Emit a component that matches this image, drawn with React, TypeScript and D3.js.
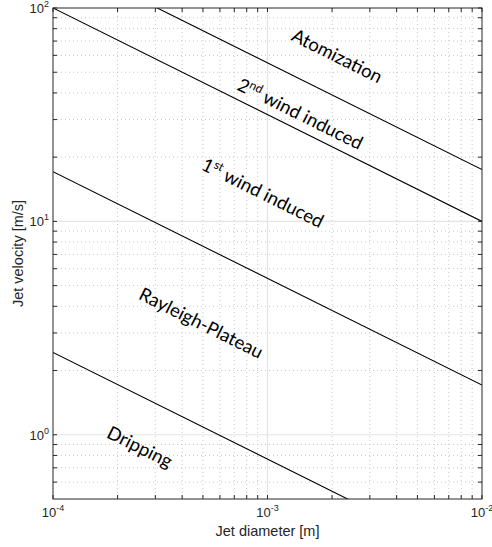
import React from "react";
import * as d3 from "d3";

// Regime boundaries: V ∝ d^-1/2, given by velocity at the two ends of the diameter range
const boundaryDiameters = [1e-4, 1e-2];
const boundaryAtomization = [175, 17.5];
const boundarySecondWind = [100, 10];
const boundaryFirstWind = [17.1, 1.71];
const boundaryDripping = [2.43, 0.243];

// Region labels; "|" marks the ordinal superscript
const regionNames = ["Atomization", "2|nd| wind induced", "1|st| wind induced", "Rayleigh-Plateau", "Dripping"];
const regionDiameters = [2.11e-3, 1.42e-3, 9.5e-4, 4.9e-4, 2.54e-4];
const regionVelocities = [59.6, 31.9, 13.6, 3.34, 0.877];

const xTickExponents = [-4, -3, -2];
const yTickExponents = [0, 1, 2];

const W = 492;
const H = 547;
const M = { left: 53, right: 482, top: 8, bottom: 499 };

export default function App() {
  const x = d3.scaleLog().domain([1e-4, 1e-2]).range([M.left, M.right]);
  const y = d3.scaleLog().domain([0.5, 100]).range([M.bottom, M.top]);

  const xMinor: number[] = [];
  for (const dec of [1e-4, 1e-3]) for (let k = 2; k <= 9; k++) xMinor.push(k * dec);
  const yMinor: number[] = [];
  for (const dec of [0.1, 1, 10]) for (let k = 2; k <= 9; k++) {
    const v = k * dec;
    if (v > 0.5 && v < 100) yMinor.push(v);
  }
  const xMajor = [1e-3];
  const yMajor = [1, 10];
  const xAllTicks = [...xMinor, 1e-4, 1e-3, 1e-2];
  const yAllTicks = [...yMinor, 1, 10, 100];

  const line = d3
    .line<[number, number]>()
    .x((d) => x(d[0]))
    .y((d) => y(d[1]));

  const boundaries = [boundaryAtomization, boundarySecondWind, boundaryFirstWind, boundaryDripping];

  // on-screen angle of a slope -1/2 line in this log-log frame
  const pxPerDecX = (M.right - M.left) / 2;
  const pxPerDecY = (M.bottom - M.top) / Math.log10(200);
  const angle = (Math.atan((0.5 * pxPerDecY) / pxPerDecX) * 180) / Math.PI;

  const axisColor = "#262626";
  const tickLen = 4;

  return (
    <svg width={W} height={H} style={{ position: "absolute", left: 0, top: 0, background: "#fff" }}>
      <defs>
        <clipPath id="plotArea">
          <rect x={M.left} y={M.top} width={M.right - M.left} height={M.bottom - M.top} />
        </clipPath>
      </defs>
      <rect x={M.left} y={M.top} width={M.right - M.left} height={M.bottom - M.top} fill="#fff" />
      {/* minor grid */}
      <g stroke="#c8c8c8" strokeWidth={1} strokeDasharray="1,3">
        {xMinor.map((v) => (
          <line key={"xm" + v} x1={x(v)} x2={x(v)} y1={M.top} y2={M.bottom} />
        ))}
        {yMinor.map((v) => (
          <line key={"ym" + v} x1={M.left} x2={M.right} y1={y(v)} y2={y(v)} />
        ))}
      </g>
      {/* major grid */}
      <g stroke="#e3e3e3" strokeWidth={1.2}>
        {xMajor.map((v) => (
          <line key={"xM" + v} x1={x(v)} x2={x(v)} y1={M.top} y2={M.bottom} />
        ))}
        {yMajor.map((v) => (
          <line key={"yM" + v} x1={M.left} x2={M.right} y1={y(v)} y2={y(v)} />
        ))}
      </g>
      {/* regime boundaries */}
      <g clipPath="url(#plotArea)" fill="none" stroke="#000" strokeWidth={1.1}>
        {boundaries.map((b, i) => (
          <path key={i} d={line(boundaryDiameters.map((dv, j) => [dv, b[j]] as [number, number])) || ""} />
        ))}
      </g>
      {/* region labels */}
      <g fontFamily="Lato, 'Open Sans', sans-serif" fontSize={18.5} fill="#000" textAnchor="middle">
        {regionNames.map((name, i) => {
          const parts = name.split("|");
          const cx = x(regionDiameters[i]);
          const cy = y(regionVelocities[i]);
          return (
            <text key={name} transform={`translate(${cx},${cy}) rotate(${angle})`} dy="0.35em">
              {parts.length === 1 ? (
                parts[0]
              ) : (
                <>
                  <tspan>{parts[0]}</tspan>
                  <tspan fontSize={12} dy={-7}>
                    {parts[1]}
                  </tspan>
                  <tspan dy={7}>{parts[2]}</tspan>
                </>
              )}
            </text>
          );
        })}
      </g>
      {/* axes box and ticks */}
      <g stroke={axisColor} strokeWidth={1}>
        <rect x={M.left} y={M.top} width={M.right - M.left} height={M.bottom - M.top} fill="none" />
        {xAllTicks.map((v) => (
          <g key={"xt" + v}>
            <line x1={x(v)} x2={x(v)} y1={M.bottom} y2={M.bottom - tickLen} />
            <line x1={x(v)} x2={x(v)} y1={M.top} y2={M.top + tickLen} />
          </g>
        ))}
        {yAllTicks.map((v) => (
          <g key={"yt" + v}>
            <line x1={M.left} x2={M.left + tickLen} y1={y(v)} y2={y(v)} />
            <line x1={M.right} x2={M.right - tickLen} y1={y(v)} y2={y(v)} />
          </g>
        ))}
      </g>
      {/* tick labels */}
      <g fontFamily="'Liberation Sans', Arial, sans-serif" fontSize={13} fill={axisColor}>
        {xTickExponents.map((e) => (
          <text key={"xl" + e} x={x(Math.pow(10, e))} y={517} textAnchor="middle">
            <tspan>10</tspan>
            <tspan fontSize={9} dy={-6}>
              {String(e)}
            </tspan>
          </text>
        ))}
        {yTickExponents.map((e) => (
          <text key={"yl" + e} x={49} y={y(Math.pow(10, e)) + 5} textAnchor="end">
            <tspan>10</tspan>
            <tspan fontSize={9} dy={-6}>
              {String(e)}
            </tspan>
          </text>
        ))}
      </g>
      {/* axis titles */}
      <g fontFamily="'Liberation Sans', Arial, sans-serif" fontSize={14.5} fill={axisColor} textAnchor="middle">
        <text x={(M.left + M.right) / 2} y={536}>
          Jet diameter [m]
        </text>
        <text transform={`translate(23,${(M.top + M.bottom) / 2}) rotate(-90)`}>Jet velocity [m/s]</text>
      </g>
    </svg>
  );
}
